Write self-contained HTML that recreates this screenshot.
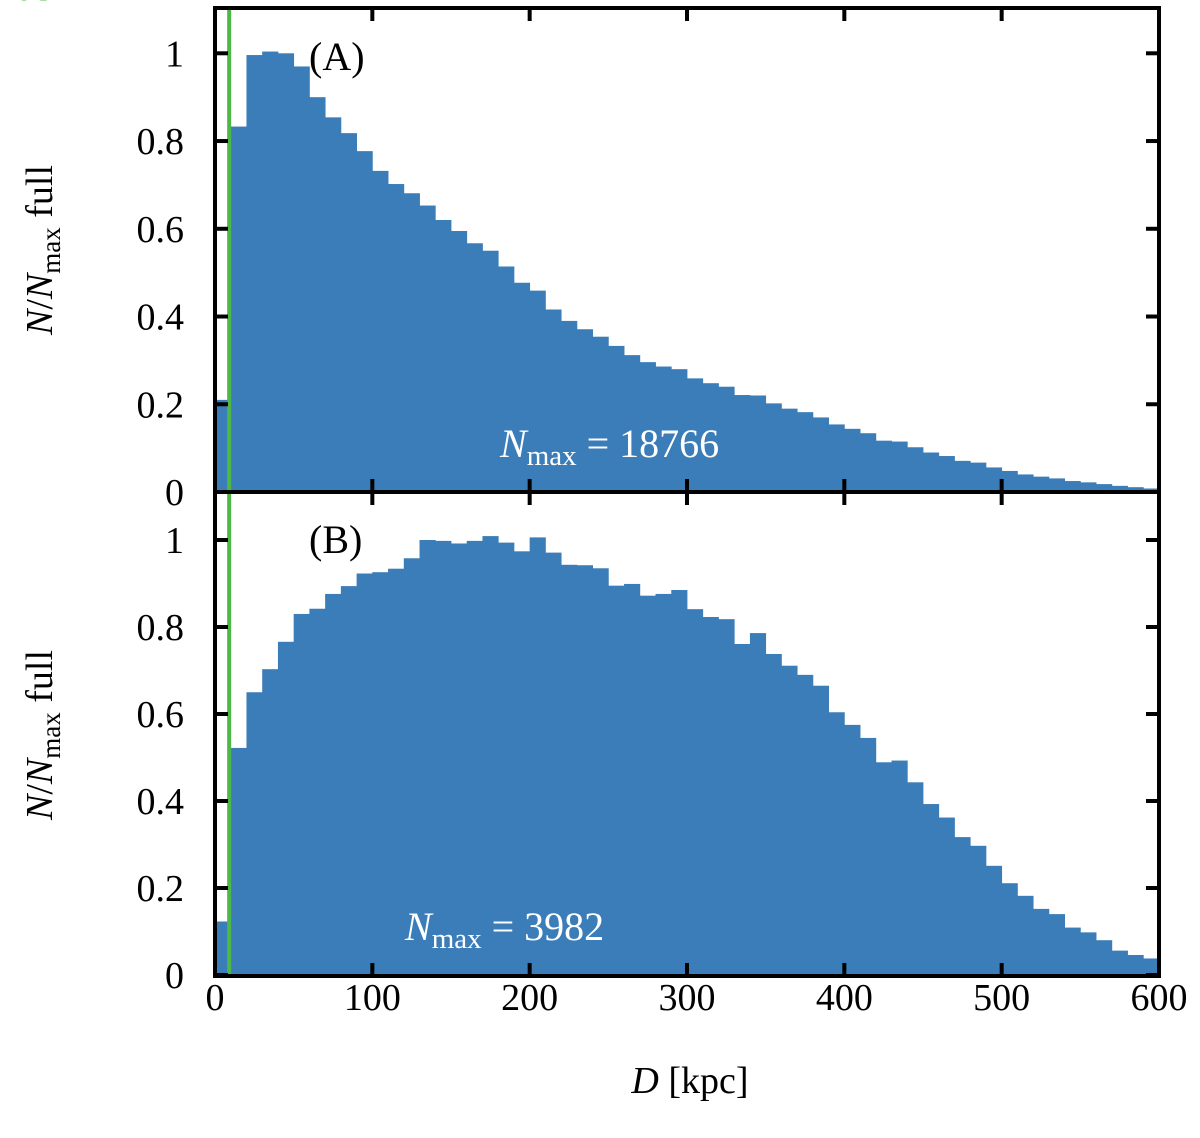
<!DOCTYPE html>
<html><head><meta charset="utf-8"><style>
html,body{margin:0;padding:0;background:#fff;}
svg{display:block;font-family:"Liberation Serif",serif;}
</style></head><body>
<svg id="chart" width="1200" height="1138" viewBox="0 0 1200 1138">
<g id="panelA"></g>
<g id="panelB"></g>
<g id="xticks"></g>
<text x="690" y="1093" font-size="38" text-anchor="middle"><tspan font-style="italic">D</tspan> [kpc]</text>
<text transform="translate(52,250) rotate(-90)" font-size="38" text-anchor="middle"><tspan font-style="italic">N</tspan>/<tspan font-style="italic">N</tspan><tspan font-size="27" dy="8">max</tspan><tspan dy="-8"> full</tspan></text>
<text transform="translate(52,735) rotate(-90)" font-size="38" text-anchor="middle"><tspan font-style="italic">N</tspan>/<tspan font-style="italic">N</tspan><tspan font-size="27" dy="8">max</tspan><tspan dy="-8"> full</tspan></text>
</svg>
<script>
const binWidthKpc = 10;
const xTickValues = [0,100,200,300,400,500,600];
const yTickValues = [0,0.2,0.4,0.6,0.8,1];
const yTickLabels = ["0","0.2","0.4","0.6","0.8","1"];
const seriesA = [0.21,0.833,0.996,1.004,1.0,0.97,0.90,0.854,0.818,0.777,0.732,0.702,0.681,0.653,0.62,0.595,0.567,0.55,0.514,0.477,0.459,0.416,0.39,0.371,0.354,0.333,0.312,0.296,0.286,0.28,0.259,0.248,0.24,0.221,0.22,0.202,0.19,0.182,0.17,0.154,0.144,0.134,0.117,0.115,0.102,0.09,0.082,0.071,0.067,0.056,0.048,0.04,0.035,0.031,0.025,0.022,0.018,0.014,0.011,0.008];
const seriesB = [0.123,0.522,0.65,0.703,0.766,0.83,0.842,0.876,0.894,0.923,0.926,0.934,0.958,1.0,0.998,0.992,0.998,1.009,0.994,0.974,1.006,0.971,0.943,0.942,0.935,0.895,0.899,0.872,0.876,0.885,0.841,0.823,0.818,0.761,0.786,0.738,0.711,0.69,0.665,0.604,0.575,0.545,0.489,0.493,0.443,0.393,0.362,0.317,0.297,0.251,0.211,0.182,0.152,0.14,0.109,0.098,0.08,0.056,0.046,0.038];
const us708Distance = 9;
const NS="http://www.w3.org/2000/svg";
const X0=215, X1=1159;
const xs = d => X0 + (d/600)*(X1-X0);
function mk(parent, tag, attrs){const e=document.createElementNS(NS,tag);for(const k in attrs)e.setAttribute(k,attrs[k]);parent.appendChild(e);return e;}
function panel(gid, data, top, bottom, y0, y1px, label, labelY, nmax, nmaxX, nmaxY, usY){
  const g=document.getElementById(gid);
  const ys = v => y0 - v*(y0-y1px);
  data.forEach((v,i)=>{
    const xa=xs(i*binWidthKpc), xb=xs((i+1)*binWidthKpc);
    const r=mk(g,'rect',{x:xa,y:ys(v),width:xb-xa+0.4,height:y0-ys(v),fill:'#3a7db8'});
    
    
  });
  const gl=mk(g,'line',{x1:xs(us708Distance),x2:xs(us708Distance),y1:top,y2:bottom,stroke:'#4db848','stroke-width':4});
  
  
  const gt=mk(g,'text',{transform:`translate(${xs(us708Distance)+40},${usY}) rotate(-90)`,'font-size':38,fill:'#4db848','text-anchor':'middle'});
  gt.textContent='US708';
  
  
  const fr=mk(g,'rect',{x:X0,y:top,width:X1-X0,height:bottom-top,fill:'none',stroke:'#000','stroke-width':4});
  
  
  xTickValues.forEach(t=>{
    const x=xs(t);
    const a=mk(g,'line',{x1:x,x2:x,y1:top,y2:top+13,stroke:'#000','stroke-width':4});
    
    
    const b=mk(g,'line',{x1:x,x2:x,y1:bottom,y2:bottom-13,stroke:'#000','stroke-width':4});
    
    
  });
  yTickValues.forEach((t,i)=>{
    const y=ys(t);
    const a=mk(g,'line',{x1:X0,x2:X0+13,y1:y,y2:y,stroke:'#000','stroke-width':4});
    
    
    const b=mk(g,'line',{x1:X1,x2:X1-13,y1:y,y2:y,stroke:'#000','stroke-width':4});
    
    
    const tl=mk(g,'text',{x:184,y:y+13,'font-size':38,'text-anchor':'end'});
    tl.textContent=yTickLabels[i];
    
    
  });
  const pl=mk(g,'text',{x:309,y:labelY,'font-size':40});
  pl.textContent=label;
  
  
  const nt=mk(g,'text',{x:nmaxX,y:nmaxY,'font-size':40,fill:'#fff'});
  nt.innerHTML='<tspan font-style="italic">N</tspan><tspan font-size="29" dy="8">max</tspan><tspan dy="-8"> = '+nmax+'</tspan>';
  
  
}
panel('panelA',seriesA,8,492,492,53.3,'(A)',70,'18766',500,457);
panel('panelB',seriesB,492,976,975,540,'(B)',553,'3982',405,940);
const gx=document.getElementById('xticks');
xTickValues.forEach(t=>{
  const tx=mk(gx,'text',{x:xs(t),y:1010,'font-size':38,'text-anchor':'middle'});
  tx.textContent=String(t);
  
  
});
</script>
</body></html>
